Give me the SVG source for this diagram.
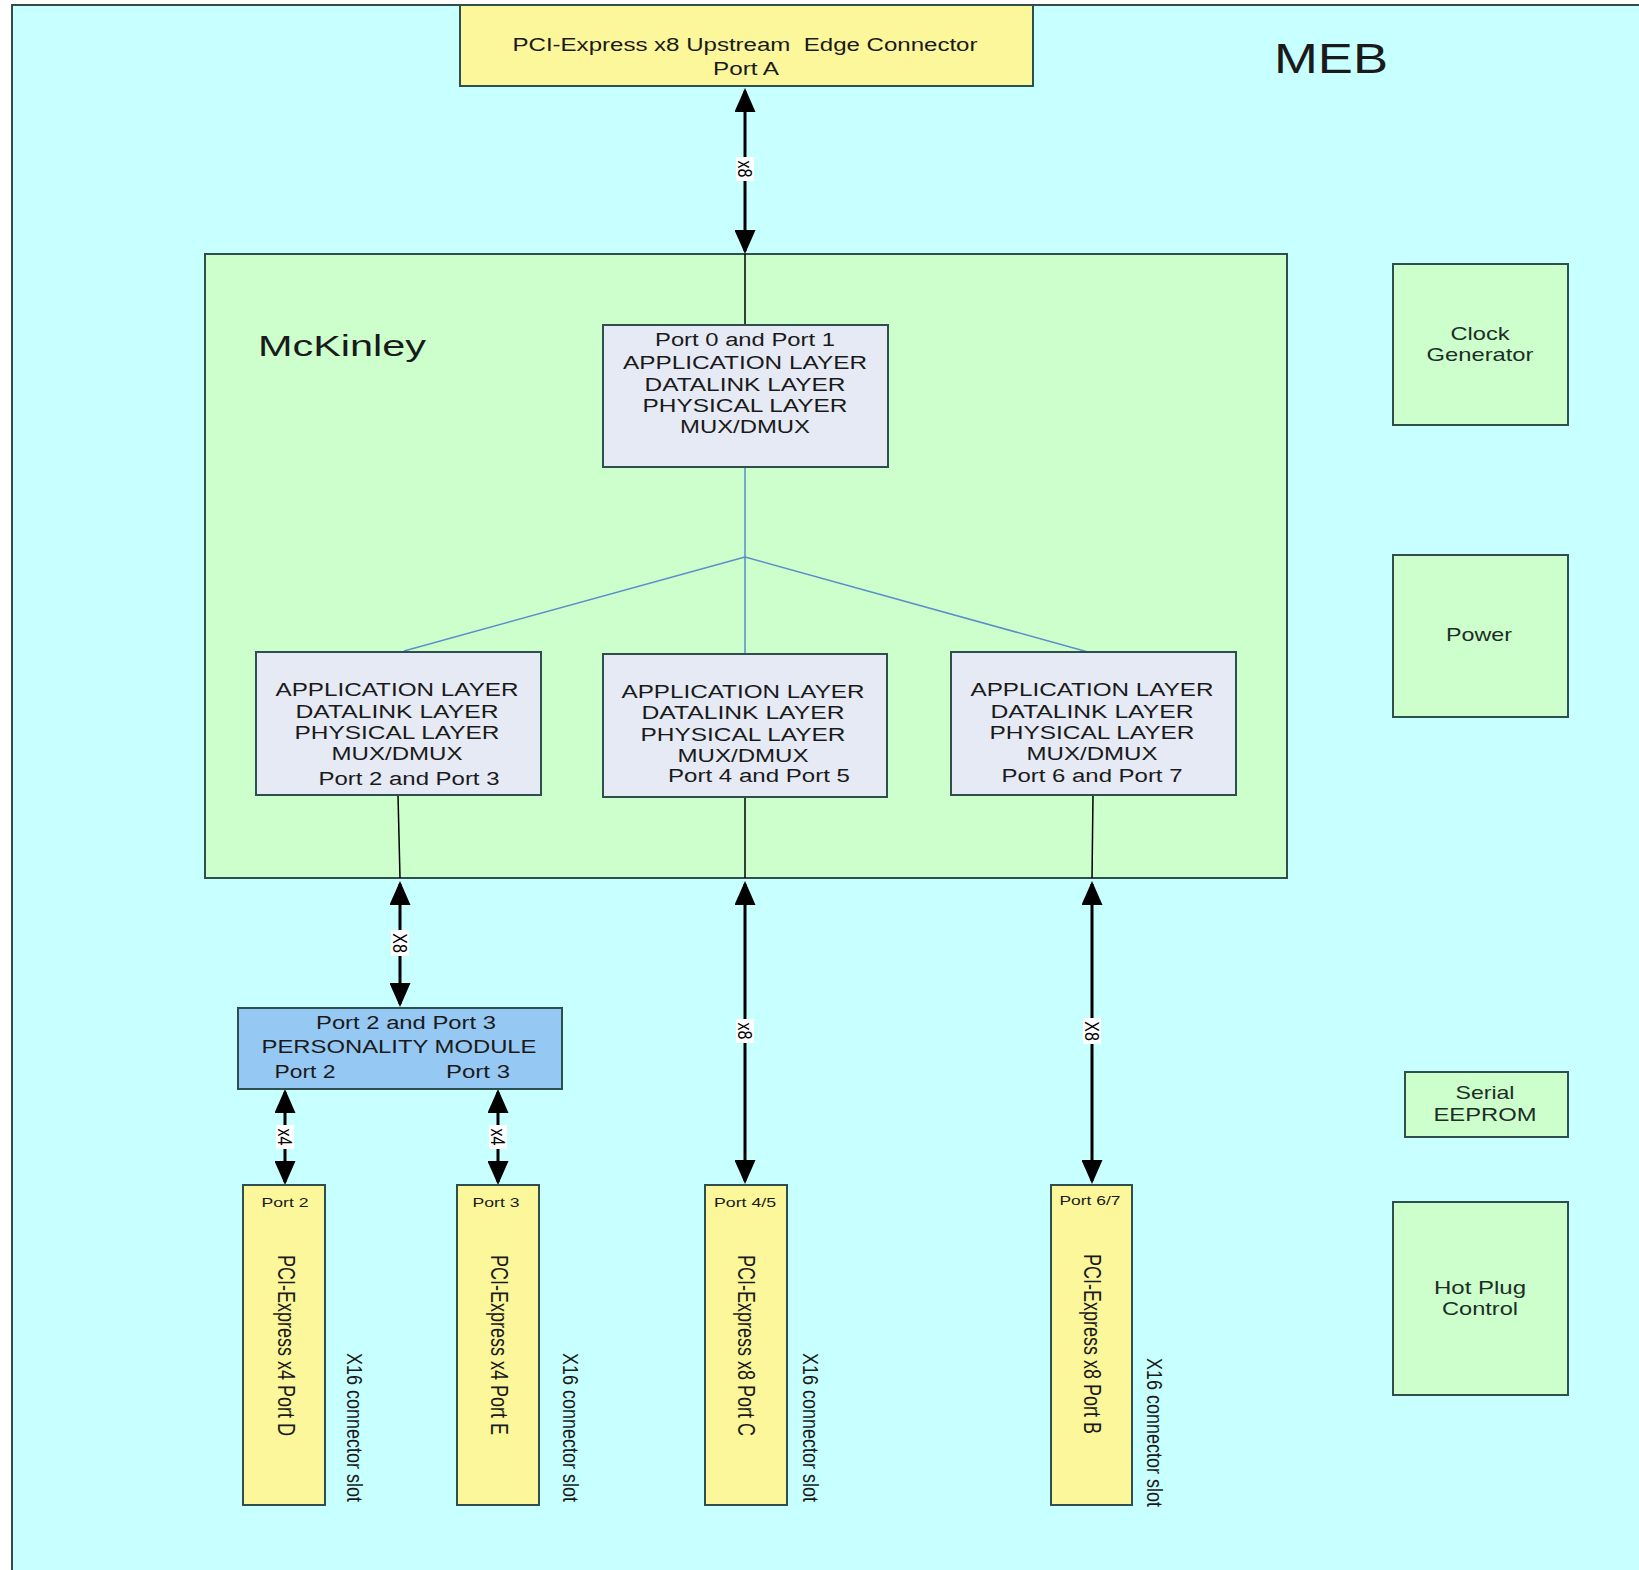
<svg xmlns="http://www.w3.org/2000/svg" width="1639" height="1570" viewBox="0 0 1639 1570">
<style>
.bx{stroke:#2f4f4f;stroke-width:2}
.yl{fill:#FCF79A}
.gr{fill:#CCFFCC}
.lv{fill:#E6EAF5}
.bl{fill:#96C8F4}
text{font-family:"Liberation Sans",Arial,sans-serif;fill:#1a1a1a}
.f18{font-size:18px}
.f19{font-size:19px;fill:#1d2e26}
.f13{font-size:13px}
.f16{font-size:16px;fill:#000}
.c{text-anchor:middle}
.ar{stroke:#000;stroke-width:3;fill:none;marker-start:url(#ah);marker-end:url(#ah)}
.th{stroke:#000;stroke-width:1.5;fill:none}
.bln{stroke:#5B8FC9;stroke-width:1.5;fill:none}
</style>
<defs>
<marker id="ah" viewBox="0 0 24 21" refX="21" refY="10.5" markerWidth="24" markerHeight="21" markerUnits="userSpaceOnUse" orient="auto-start-reverse">
<path d="M0,0 L24,10.5 L0,21 z" fill="#000"/>
</marker>
</defs>
<rect x="0" y="0" width="1639" height="1570" fill="#ffffff"/>
<g id="meb">
<rect x="12" y="5" width="1660" height="1600" fill="#C8FFFF" class="bx"/>
<text x="1331" y="73" class="c" style="font-size:43px" textLength="114" lengthAdjust="spacingAndGlyphs">MEB</text>
</g>
<g id="upstream">
<rect x="460" y="5" width="573" height="81" class="yl bx"/>
<text x="745" y="51" class="f18 c" xml:space="preserve" textLength="465" lengthAdjust="spacingAndGlyphs">PCI-Express x8 Upstream  Edge Connector</text>
<text x="746" y="75" class="f18 c" textLength="66" lengthAdjust="spacingAndGlyphs">Port A</text>
</g>
<g id="mckinley">
<rect x="205" y="254" width="1082" height="624" class="gr bx"/>
<text x="342" y="356" class="c" style="font-size:30px" textLength="168" lengthAdjust="spacingAndGlyphs">McKinley</text>
</g>
<g id="connectors">
<line x1="745" y1="91" x2="745" y2="251" class="ar"/>
<line x1="745" y1="254" x2="745" y2="325" class="th"/>
<path d="M745,467 L745,654 M745,557 L404,651 M745,557 L1088,652" class="bln"/>
<line x1="398" y1="795" x2="400" y2="878" class="th"/>
<line x1="745" y1="797" x2="745" y2="878" class="th"/>
<line x1="1093" y1="795" x2="1092" y2="878" class="th"/>
<line x1="400" y1="884" x2="400" y2="1004" class="ar"/>
<line x1="745" y1="884" x2="745" y2="1181" class="ar"/>
<line x1="1092" y1="884" x2="1092" y2="1181" class="ar"/>
<line x1="285" y1="1092" x2="285" y2="1182" class="ar"/>
<line x1="498" y1="1092" x2="498" y2="1182" class="ar"/>
<g transform="translate(745,169)"><rect x="-9" y="-12" width="18" height="24" fill="#fff"/><text class="f16 c" transform="scale(1.3,1) rotate(90)" y="5.7">x8</text></g>
<g transform="translate(400,943)"><rect x="-9" y="-13" width="18" height="26" fill="#fff"/><text class="f16 c" transform="scale(1.3,1) rotate(90)" y="5.7">X8</text></g>
<g transform="translate(745,1031)"><rect x="-9" y="-12" width="18" height="24" fill="#fff"/><text class="f16 c" transform="scale(1.3,1) rotate(90)" y="5.7">x8</text></g>
<g transform="translate(1092,1031)"><rect x="-9" y="-13" width="18" height="26" fill="#fff"/><text class="f16 c" transform="scale(1.3,1) rotate(90)" y="5.7">X8</text></g>
<g transform="translate(285,1137)"><rect x="-9" y="-12" width="18" height="24" fill="#fff"/><text class="f16 c" transform="scale(1.3,1) rotate(90)" y="5.7">x4</text></g>
<g transform="translate(498,1137)"><rect x="-9" y="-12" width="18" height="24" fill="#fff"/><text class="f16 c" transform="scale(1.3,1) rotate(90)" y="5.7">x4</text></g>
</g>
<g id="port01">
<rect x="603" y="325" width="285" height="142" class="lv bx"/>
<text x="745" y="346" class="f18 c" textLength="180" lengthAdjust="spacingAndGlyphs">Port 0 and Port 1</text>
<text x="745" y="369" class="f18 c" textLength="244" lengthAdjust="spacingAndGlyphs">APPLICATION LAYER</text>
<text x="745" y="391" class="f18 c" textLength="201" lengthAdjust="spacingAndGlyphs">DATALINK LAYER</text>
<text x="745" y="412" class="f18 c" textLength="205" lengthAdjust="spacingAndGlyphs">PHYSICAL LAYER</text>
<text x="745" y="433" class="f18 c" textLength="130" lengthAdjust="spacingAndGlyphs">MUX/DMUX</text>
</g>
<g id="port23">
<rect x="256" y="652" width="285" height="143" class="lv bx"/>
<text x="397" y="696" class="f18 c" textLength="243" lengthAdjust="spacingAndGlyphs">APPLICATION LAYER</text>
<text x="397" y="718" class="f18 c" textLength="203" lengthAdjust="spacingAndGlyphs">DATALINK LAYER</text>
<text x="397" y="739" class="f18 c" textLength="205" lengthAdjust="spacingAndGlyphs">PHYSICAL LAYER</text>
<text x="397" y="760" class="f18 c" textLength="131" lengthAdjust="spacingAndGlyphs">MUX/DMUX</text>
<text x="409" y="785" class="f18 c" textLength="181" lengthAdjust="spacingAndGlyphs">Port 2 and Port 3</text>
</g>
<g id="port45">
<rect x="603" y="654" width="284" height="143" class="lv bx"/>
<text x="743" y="698" class="f18 c" textLength="243" lengthAdjust="spacingAndGlyphs">APPLICATION LAYER</text>
<text x="743" y="719" class="f18 c" textLength="203" lengthAdjust="spacingAndGlyphs">DATALINK LAYER</text>
<text x="743" y="741" class="f18 c" textLength="205" lengthAdjust="spacingAndGlyphs">PHYSICAL LAYER</text>
<text x="743" y="762" class="f18 c" textLength="131" lengthAdjust="spacingAndGlyphs">MUX/DMUX</text>
<text x="759" y="782" class="f18 c" textLength="182" lengthAdjust="spacingAndGlyphs">Port 4 and Port 5</text>
</g>
<g id="port67">
<rect x="951" y="652" width="285" height="143" class="lv bx"/>
<text x="1092" y="696" class="f18 c" textLength="243" lengthAdjust="spacingAndGlyphs">APPLICATION LAYER</text>
<text x="1092" y="718" class="f18 c" textLength="203" lengthAdjust="spacingAndGlyphs">DATALINK LAYER</text>
<text x="1092" y="739" class="f18 c" textLength="205" lengthAdjust="spacingAndGlyphs">PHYSICAL LAYER</text>
<text x="1092" y="760" class="f18 c" textLength="131" lengthAdjust="spacingAndGlyphs">MUX/DMUX</text>
<text x="1092" y="782" class="f18 c" textLength="181" lengthAdjust="spacingAndGlyphs">Port 6 and Port 7</text>
</g>
<g id="personality">
<rect x="238" y="1008" width="324" height="81" class="bl bx"/>
<text x="406" y="1029" class="f18 c" textLength="180" lengthAdjust="spacingAndGlyphs">Port 2 and Port 3</text>
<text x="399" y="1053" class="f18 c" textLength="275" lengthAdjust="spacingAndGlyphs">PERSONALITY MODULE</text>
<text x="305" y="1078" class="f18 c" textLength="61" lengthAdjust="spacingAndGlyphs">Port 2</text>
<text x="478" y="1078" class="f18 c" textLength="64" lengthAdjust="spacingAndGlyphs">Port 3</text>
</g>
<g id="slotD">
<rect x="243" y="1185" width="82" height="320" class="yl bx"/>
<text x="285" y="1207" class="f13 c" textLength="47" lengthAdjust="spacingAndGlyphs">Port 2</text>
<g transform="translate(286,1255)"><text class="f18" transform="scale(1.3,1) rotate(90)" y="6.5">PCI-Express x4 Port D</text></g>
<g transform="translate(355,1353)"><text class="f18" transform="scale(1.2,1) rotate(90)" y="6.5">X16 connector slot</text></g>
</g>
<g id="slotE">
<rect x="457" y="1185" width="82" height="320" class="yl bx"/>
<text x="496" y="1207" class="f13 c" textLength="47" lengthAdjust="spacingAndGlyphs">Port 3</text>
<g transform="translate(499,1255)"><text class="f18" transform="scale(1.3,1) rotate(90)" y="6.5">PCI-Express x4 Port E</text></g>
<g transform="translate(571,1353)"><text class="f18" transform="scale(1.2,1) rotate(90)" y="6.5">X16 connector slot</text></g>
</g>
<g id="slotC">
<rect x="705" y="1185" width="82" height="320" class="yl bx"/>
<text x="745" y="1207" class="f13 c" textLength="62" lengthAdjust="spacingAndGlyphs">Port 4/5</text>
<g transform="translate(746,1255)"><text class="f18" transform="scale(1.3,1) rotate(90)" y="6.5">PCI-Express x8 Port C</text></g>
<g transform="translate(811,1353)"><text class="f18" transform="scale(1.2,1) rotate(90)" y="6.5">X16 connector slot</text></g>
</g>
<g id="slotB">
<rect x="1051" y="1185" width="81" height="320" class="yl bx"/>
<text x="1090" y="1205" class="f13 c" textLength="61" lengthAdjust="spacingAndGlyphs">Port 6/7</text>
<g transform="translate(1092,1254)"><text class="f18" transform="scale(1.3,1) rotate(90)" y="6.5">PCI-Express x8 Port B</text></g>
<g transform="translate(1155,1358)"><text class="f18" transform="scale(1.2,1) rotate(90)" y="6.5">X16 connector slot</text></g>
</g>
<g id="clock">
<rect x="1393" y="264" width="175" height="161" class="gr bx"/>
<text x="1480" y="340" class="f19 c" textLength="59" lengthAdjust="spacingAndGlyphs">Clock</text>
<text x="1480" y="361" class="f19 c" textLength="107" lengthAdjust="spacingAndGlyphs">Generator</text>
</g>
<g id="power">
<rect x="1393" y="555" width="175" height="162" class="gr bx"/>
<text x="1479" y="641" class="f19 c" textLength="66" lengthAdjust="spacingAndGlyphs">Power</text>
</g>
<g id="eeprom">
<rect x="1405" y="1072" width="163" height="65" class="gr bx"/>
<text x="1485" y="1099" class="f19 c" textLength="59" lengthAdjust="spacingAndGlyphs">Serial</text>
<text x="1485" y="1121" class="f19 c" textLength="103" lengthAdjust="spacingAndGlyphs">EEPROM</text>
</g>
<g id="hotplug">
<rect x="1393" y="1202" width="175" height="193" class="gr bx"/>
<text x="1480" y="1294" class="f19 c" textLength="92" lengthAdjust="spacingAndGlyphs">Hot Plug</text>
<text x="1480" y="1315" class="f19 c" textLength="76" lengthAdjust="spacingAndGlyphs">Control</text>
</g>
</svg>
